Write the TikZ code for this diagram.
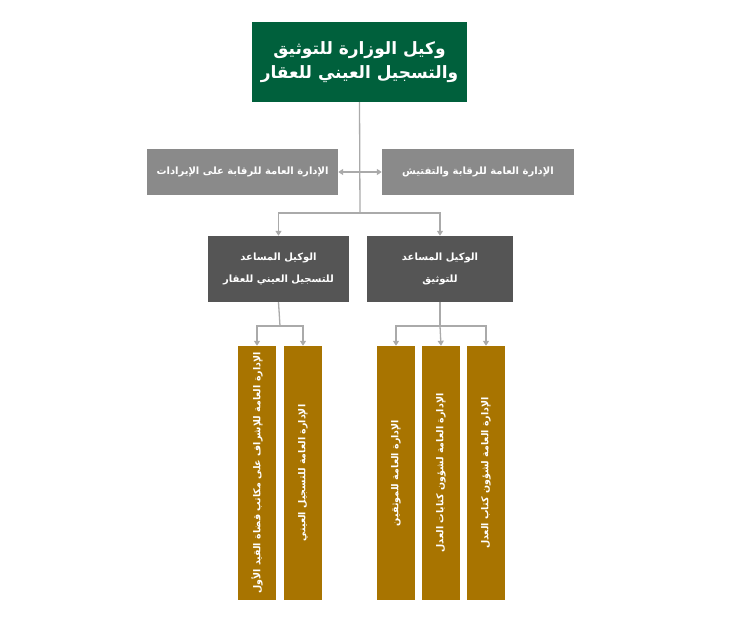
\documentclass[tikz,border=0pt]{standalone}
\usepackage{fontspec}
\newfontfamily\arabicfont[Script=Arabic]{DejaVu Sans}
\TeXXeTstate=1
\usetikzlibrary{arrows.meta}
\definecolor{topgreen}{HTML}{00603C}
\definecolor{midgray}{HTML}{8A8A8A}
\definecolor{darkgray}{HTML}{555555}
\definecolor{gold}{HTML}{A87400}
\definecolor{linegray}{HTML}{AAAAAA}
\begin{document}
\begin{tikzpicture}[x=1pt,y=-1pt,
  box/.style={draw=none,text=white,font=\arabicfont\bfseries,align=center,inner sep=0pt},
  conn/.style={draw=linegray,line width=1.3pt},
  arr/.style={conn,-{Triangle[length=5pt,width=6pt]}}]
\useasboundingbox (0,0) rectangle (752,617);
\node[box,fill=topgreen,minimum width=215pt,minimum height=80pt,font=\arabicfont\bfseries\fontsize{17}{24}\selectfont] (top) at (359.5,62) {\beginR وكيل الوزارة للتوثيق\endR\\\beginR والتسجيل العيني للعقار\endR};
\node[box,fill=midgray,minimum width=191pt,minimum height=46pt,font=\arabicfont\bfseries\fontsize{10}{12}\selectfont] (gl) at (242.5,172) {\beginR الإدارة العامة للرقابة على الإيرادات\endR};
\node[box,fill=midgray,minimum width=192pt,minimum height=46pt,font=\arabicfont\bfseries\fontsize{10}{12}\selectfont] (gr) at (478,172) {\beginR الإدارة العامة للرقابة والتفتيش\endR};
\node[box,fill=darkgray,minimum width=141pt,minimum height=66pt,font=\arabicfont\bfseries\fontsize{10}{22}\selectfont] (dl) at (278.5,269) {\beginR الوكيل المساعد\endR\\\beginR للتسجيل العيني للعقار\endR};
\node[box,fill=darkgray,minimum width=146pt,minimum height=66pt,font=\arabicfont\bfseries\fontsize{10}{22}\selectfont] (dr) at (440,269) {\beginR الوكيل المساعد\endR\\\beginR للتوثيق\endR};
\tikzset{col/.style={box,fill=gold,minimum width=254pt,minimum height=38pt,rotate=90,font=\arabicfont\bfseries\fontsize{9.5}{11}\selectfont}}
\node[col] (c1) at (257,473) {\beginR الإدارة العامة للإشراف على مكاتب قضاة القيد الأول\endR};
\node[col] (c2) at (303,473) {\beginR الإدارة العامة للتسجيل العيني\endR};
\node[col] (c3) at (396,473) {\beginR الإدارة العامة للموثقين\endR};
\node[col] (c4) at (441,473) {\beginR الإدارة العامة لشؤون كتابات العدل\endR};
\node[col] (c5) at (486,473) {\beginR الإدارة العامة لشؤون كتاب العدل\endR};
\coordinate (j1) at (360,213);
\draw[conn] (top.south) -- (j1);
\draw[conn,{Triangle[length=5pt,width=6pt]}-{Triangle[length=5pt,width=6pt]}] (gl.east) -- (gr.west);
\draw[arr] (j1) -| (dl.north);
\draw[arr] (j1) -| (dr.north);
\coordinate (j2) at (280,326);
\coordinate (j3) at (440,326);
\draw[conn] (dl.south) -- (j2);
\draw[conn] (dr.south) -- (j3);
\draw[arr] (j2) -| (c1.east);
\draw[arr] (j2) -| (c2.east);
\draw[arr] (j3) -| (c3.east);
\draw[arr] (j3) -- (c4.east);
\draw[arr] (j3) -| (c5.east);
\end{tikzpicture}
\end{document}
